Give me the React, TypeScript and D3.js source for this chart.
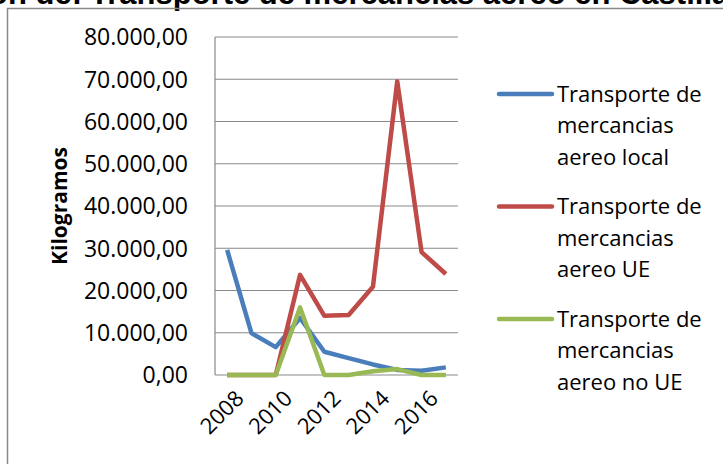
import React from "react";
import * as d3 from "d3";

const years = [2008, 2009, 2010, 2011, 2012, 2013, 2014, 2015, 2016, 2017];
const localValues = [29600, 9900, 6600, 13500, 5500, 4000, 2500, 1200, 1000, 1800];
const ueValues = [0, 0, 0, 23700, 14000, 14200, 20900, 69500, 29100, 23900];
const noUeValues = [0, 0, 0, 16000, 0, 0, 900, 1400, 0, 0];
const yTicks = [0, 10000, 20000, 30000, 40000, 50000, 60000, 70000, 80000];
const xTickLabels = [2008, 2010, 2012, 2014, 2016];
const seriesNames = [
  ["Transporte de", "mercancias", "aereo local"],
  ["Transporte de", "mercancias", "aereo UE"],
  ["Transporte de", "mercancias", "aereo no UE"],
];
const colors = ["#4A7EBB", "#BE4B48", "#98B954"];

const W = 723;
const H = 464;
const plot = { left: 215, right: 458, top: 37, bottom: 375 };
const FONT = "'Open Sans', sans-serif";

export default function App() {
  const x = d3
    .scaleBand<number>()
    .domain(years)
    .range([plot.left, plot.right]);
  const cx = (yr: number) => (x(yr) as number) + x.bandwidth() / 2;
  const y = d3.scaleLinear().domain([0, 80000]).range([plot.bottom, plot.top]);
  const fmt = (v: number) =>
    d3.format(",.2f")(v).replace(/,/g, "#").replace(/\./g, ",").replace(/#/g, ".");

  const line = d3
    .line<number>()
    .x((_, i) => cx(years[i]))
    .y((d) => y(d));

  const all = [localValues, ueValues, noUeValues];

  return (
    <svg
      width={W}
      height={H}
      style={{ position: "absolute", left: 0, top: 0, background: "#fff" }}
    >
      <rect x={0} y={0} width={W} height={H} fill="#fff" />
      {/* title (clipped at top) */}
      <text
        x={82}
        y={4}
        textAnchor="end"
        fontFamily="'Liberation Sans', Arial, sans-serif"
        fontWeight="bold"
        fontSize={31}
        fill="#000"
      >
        Evolución de:
      </text>
      <text
        x={90}
        y={4}
        fontFamily="'Liberation Sans', Arial, sans-serif"
        fontWeight="bold"
        fontSize={31}
        fill="#000"
      >
        Transporte de mercancias aereo en Castilla y León
      </text>
      {/* outer border */}
      <path d={`M7.5,${H + 2} V8.5 H${W + 2}`} fill="none" stroke="#898989" strokeWidth={1.5} />

      {/* grid */}
      {yTicks.map((t) => (
        <line
          key={t}
          x1={plot.left}
          x2={plot.right}
          y1={y(t)}
          y2={y(t)}
          stroke="#898989"
          strokeWidth={1.2}
        />
      ))}
      <line x1={plot.left} x2={plot.left} y1={plot.top} y2={plot.bottom} stroke="#898989" strokeWidth={1.2} />
      {/* y labels */}
      {yTicks.map((t) => (
        <text
          key={t}
          x={188}
          y={y(t)}
          dy="0.36em"
          textAnchor="end"
          fontFamily={FONT}
          fontSize={23}
          fill="#000"
        >
          {fmt(t)}
        </text>
      ))}
      {/* y title */}
      <text
        transform={`translate(67,${(plot.top + plot.bottom) / 2}) rotate(-90)`}
        textAnchor="middle"
        fontFamily={FONT}
        fontWeight="bold"
        fontSize={21}
        fill="#000"
      >
        Kilogramos
      </text>
      {/* x labels */}
      {xTickLabels.map((yr) => (
        <text
          key={yr}
          transform={`translate(${cx(yr) + 7},${plot.bottom + 14}) rotate(-45)`}
          textAnchor="end"
          dy="0.7em"
          fontFamily={FONT}
          fontSize={22}
          fill="#000"
        >
          {yr}
        </text>
      ))}
      {/* lines */}
      {all.map((vals, i) => (
        <path
          key={i}
          d={line(vals) as string}
          fill="none"
          stroke={colors[i]}
          strokeWidth={4.5}
          strokeLinejoin="round"
        />
      ))}
      {/* legend */}
      {seriesNames.map((lines, i) => {
        const y0 = 94 + i * 112.5;
        return (
          <g key={i}>
            <line x1={499} x2={552} y1={y0} y2={y0} stroke={colors[i]} strokeWidth={4.5} strokeLinecap="round" />
            {lines.map((s, j) => (
              <text
                key={j}
                x={557}
                y={y0 + j * 31.5}
                dy="0.36em"
                fontFamily={FONT}
                fontSize={22}
                fill="#000"
              >
                {s}
              </text>
            ))}
          </g>
        );
      })}
    </svg>
  );
}
